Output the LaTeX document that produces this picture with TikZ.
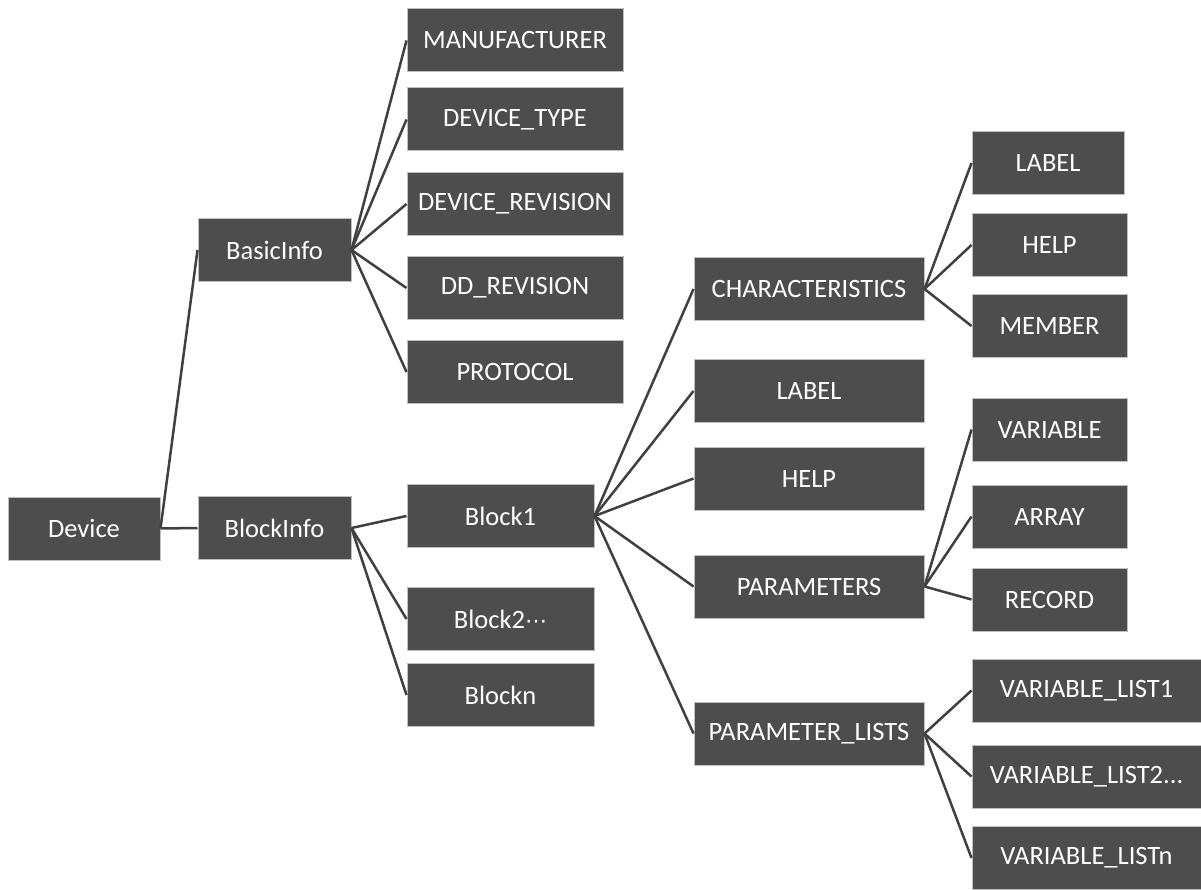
\documentclass[tikz,border=0pt]{standalone}
\usepackage{fontspec}
\setmainfont{Carlito}
\newfontfamily\symfont{DejaVu Sans}
\usetikzlibrary{positioning}
\definecolor{boxfill}{HTML}{4D4D4D}
\definecolor{boxrim}{HTML}{BFBFBF}
\definecolor{linkgray}{HTML}{404040}
\newcommand{\trailingdots}{...}
\newcommand{\middots}{{\symfont\fontsize{22}{26}\selectfont ⋯}}

\tikzset{
  item/.style={fill=boxfill,draw=boxrim,line width=1pt,text=white,
    font=\fontsize{26.5}{30}\selectfont,minimum height=63pt,inner sep=0pt},
  link/.style={draw=linkgray,line width=2.5pt}
}

\begin{document}
\begin{tikzpicture}[x=1pt,y=-1pt]
  \useasboundingbox (0,0) rectangle (1201,890);
  % root and first level
  \node[item,minimum width=152pt] (device) at (84,528.5) {Device};
  \node[item,minimum width=153pt] (basic) at (274.5,250) {BasicInfo};
  \node[item,minimum width=153pt] (blocks) at (274.5,528) {BlockInfo};
  \draw[link] (device.east) -- (basic.west);
  \draw[link] (device.east) -- (blocks.west);

  % basic info fields
  \foreach \nm/\y/\txt in {manu/40.5/MANUFACTURER,dtype/119.5/DEVICE\_TYPE,
      drev/204/DEVICE\_REVISION,ddrev/288/DD\_REVISION,proto/372/PROTOCOL} {
    \node[item,minimum width=216pt] (\nm) at (515,\y) {\txt};
    \draw[link] (basic.east) -- (\nm.west);
  }

  % blocks
  \foreach \nm/\y/\txt in {blk1/516/Block1,blk2/619/Block2\middots,blkn/695/Blockn} {
    \node[item,minimum width=187pt] (\nm) at (500.5,\y) {\txt};
    \draw[link] (blocks.east) -- (\nm.west);
  }

  % contents of Block1
  \foreach \nm/\y/\txt in {chars/289/CHARACTERISTICS,blabel/391/LABEL,bhelp/478.5/HELP,
      params/586.5/PARAMETERS,plists/733.5/PARAMETER\_LISTS} {
    \node[item,minimum width=230pt] (\nm) at (809,\y) {\txt};
    \draw[link] (blk1.east) -- (\nm.west);
  }

  % leaves
  \node[item,minimum width=152pt] (clabel) at (1048,163) {LABEL};
  \foreach \nm/\y/\txt in {chelp/245/HELP,cmember/326/MEMBER} {
    \node[item,minimum width=155pt] (\nm) at (1049.5,\y) {\txt};
  }
  \foreach \nm in {clabel,chelp,cmember}
    \draw[link] (chars.east) -- (\nm.west);

  \foreach \nm/\y/\txt in {pvar/429.5/VARIABLE,parr/516.5/ARRAY,prec/599.5/RECORD} {
    \node[item,minimum width=155pt] (\nm) at (1049.5,\y) {\txt};
    \draw[link] (params.east) -- (\nm.west);
  }

  \foreach \nm/\y/\txt in {vl1/690.5/VARIABLE\_LIST1,vl2/776.5/VARIABLE\_LIST2\trailingdots,
      vln/858/VARIABLE\_LISTn} {
    \node[item,minimum width=229pt] (\nm) at (1086.5,\y) {\txt};
    \draw[link] (plists.east) -- (\nm.west);
  }
\end{tikzpicture}
\end{document}
